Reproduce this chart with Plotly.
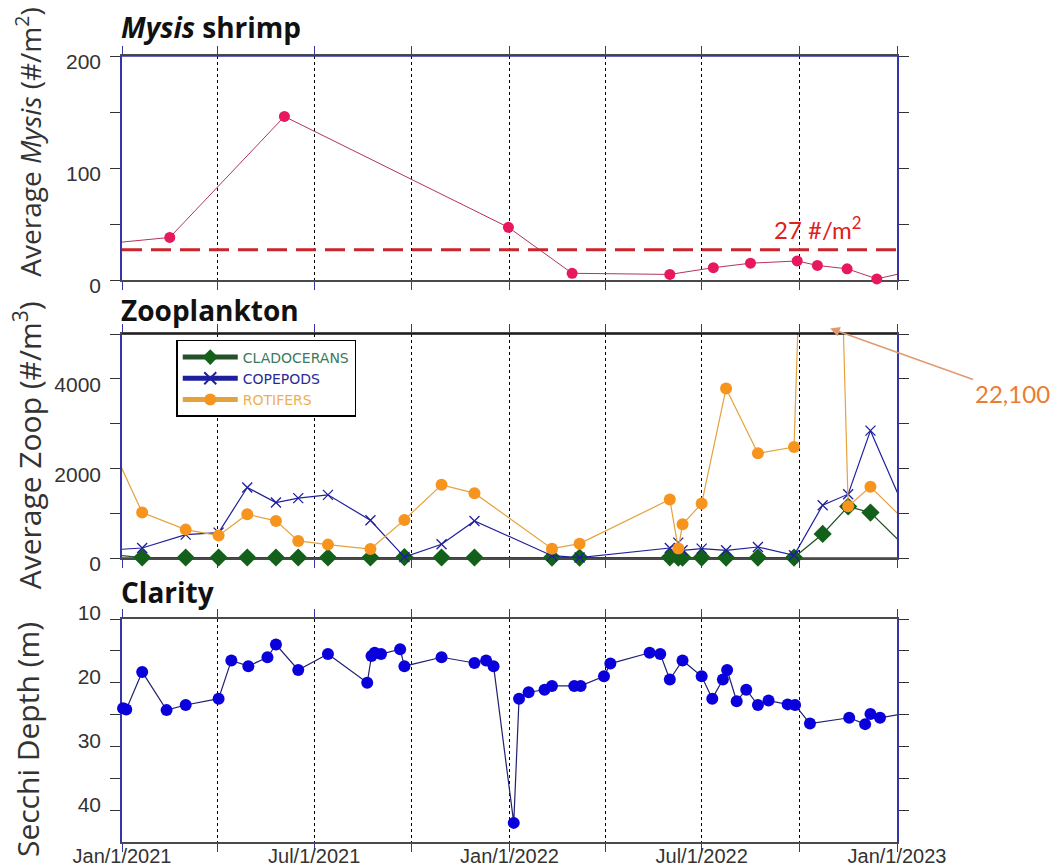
import pandas as pd
import plotly.graph_objects as go

# ---------------- data ----------------
mysis_dates = ["2020-11-20", "2021-02-15", "2021-06-03", "2021-12-31", "2022-03-01",
               "2022-06-01", "2022-07-12", "2022-08-16", "2022-09-29", "2022-10-18",
               "2022-11-15", "2022-12-13", "2023-01-15"]
mysis_values = [30, 38, 146, 47, 6, 5, 11, 15, 17, 13, 10, 1, 8]
mysis_target = 27

zoop_dates = ["2020-12-28", "2021-01-20", "2021-03-02", "2021-04-02", "2021-04-29",
              "2021-05-26", "2021-06-16", "2021-07-14", "2021-08-23", "2021-09-24",
              "2021-10-29", "2021-11-29", "2022-02-10", "2022-03-08", "2022-06-01",
              "2022-06-09", "2022-06-13", "2022-07-01", "2022-07-24", "2022-08-23",
              "2022-09-26", "2022-10-23", "2022-11-16", "2022-12-07", "2023-01-10"]
cladocerans = [60, 12, 12, 12, 12, 12, 12, 12, 12, 20, 12, 12, 10, 10, 15,
               10, 10, 10, 10, 10, 10, 537, 1150, 1015, 224]
copepods = [190, 224, 522, 567, 1575, 1239, 1336, 1410, 843, 20, 306, 828, 52, 10, 223,
            344, 172, 210, 172, 246, 60, 1179, 1425, 2843, 990]
rotifers = [2200, 1015, 634, 500, 978, 828, 381, 299, 201, 851, 1634, 1448, 209, 321, 1306,
            210, 752, 1216, 3784, 2336, 2478, 22100, 1157, 1590, 800]
rotifer_peak_label = "22,100"

secchi_dates = ["2021-01-02", "2021-01-05", "2021-01-20", "2021-02-12", "2021-03-02",
                "2021-04-02", "2021-04-14", "2021-04-30", "2021-05-18", "2021-05-26",
                "2021-06-16", "2021-07-14", "2021-08-20", "2021-08-24", "2021-08-27",
                "2021-09-02", "2021-09-20", "2021-09-24", "2021-10-29", "2021-11-29",
                "2021-12-10", "2021-12-17", "2022-01-05", "2022-01-10", "2022-01-19",
                "2022-02-03", "2022-02-10", "2022-03-03", "2022-03-09", "2022-03-31",
                "2022-04-06", "2022-05-13", "2022-05-23", "2022-06-01", "2022-06-13",
                "2022-07-01", "2022-07-11", "2022-07-21", "2022-07-25", "2022-08-03",
                "2022-08-12", "2022-08-23", "2022-09-02", "2022-09-20", "2022-09-27",
                "2022-10-11", "2022-11-17", "2022-12-02", "2022-12-07", "2022-12-16",
                "2023-01-10"]
secchi_depth = [24.0, 24.2, 18.3, 24.3, 23.5, 22.5, 16.5, 17.4, 16.0, 14.0,
                18.0, 15.5, 20.0, 15.8, 15.3, 15.5, 14.75, 17.4, 16.0, 16.9,
                16.5, 17.4, 42.0, 22.5, 21.5, 21.1, 20.5, 20.5, 20.5, 19.0,
                17.0, 15.3, 15.5, 19.5, 16.5, 19.0, 22.5, 19.5, 18.0, 22.9,
                21.1, 23.5, 22.8, 23.4, 23.5, 26.4, 25.5, 26.5, 24.9, 25.5,
                24.8]

x_range = ["2021-01-01", "2023-01-01"]
quarter_ticks = ["2021-01-01", "2021-04-01", "2021-07-01", "2021-10-01", "2022-01-01",
                 "2022-04-01", "2022-07-01", "2022-10-01", "2023-01-01"]
quarter_labels = ["Jan/1/2021", " ", "Jul/1/2021", " ", "Jan/1/2022", " ", "Jul/1/2022", " ",
                  "Jan/1/2023"]

mysis_yrange = [0, 200]
zoop_yrange = [0, 5000]
secchi_yrange = [45, 10]


def marker_sizes(dates, values, yr, size):
    """Hide markers that fall outside the visible axis ranges."""
    d = pd.to_datetime(pd.Series(dates))
    lo, hi = pd.Timestamp(x_range[0]), pd.Timestamp(x_range[1])
    ylo, yhi = min(yr), max(yr)
    out = []
    for di, v in zip(d, values):
        out.append(size if (lo <= di <= hi and ylo <= v <= yhi) else 0)
    return out


fig = go.Figure()

# ---- Mysis ----
fig.add_trace(go.Scatter(
    x=mysis_dates, y=mysis_values, mode="lines+markers", xaxis="x", yaxis="y",
    line=dict(color="#b0345c", width=1),
    marker=dict(color="#e8185c", opacity=1, line=dict(width=0),
                size=marker_sizes(mysis_dates, mysis_values, mysis_yrange, 11)),
    cliponaxis=False, showlegend=False))

# ---- Zooplankton ----
fig.add_trace(go.Scatter(
    x=zoop_dates, y=cladocerans, mode="lines+markers", xaxis="x2", yaxis="y2",
    name="<span style='color:#3b7a5c'>CLADOCERANS</span>",
    line=dict(color="#24502a", width=1.2),
    marker=dict(symbol="diamond", color="#13601a", opacity=1, line=dict(width=0),
                size=marker_sizes(zoop_dates, cladocerans, zoop_yrange, 14)),
    cliponaxis=False))
fig.add_trace(go.Scatter(
    x=zoop_dates, y=copepods, mode="lines+markers", xaxis="x2", yaxis="y2",
    name="<span style='color:#2a2a96'>COPEPODS</span>",
    line=dict(color="#1f1f9e", width=1.2),
    marker=dict(symbol="x-thin", color="#1f1f9e", opacity=1,
                line=dict(color="#1f1f9e", width=1.3),
                size=marker_sizes(zoop_dates, copepods, zoop_yrange, 10)),
    cliponaxis=False))
fig.add_trace(go.Scatter(
    x=zoop_dates, y=rotifers, mode="lines+markers", xaxis="x2", yaxis="y2",
    name="<span style='color:#f0b050'>ROTIFERS</span>",
    line=dict(color="#e4a23c", width=1.2),
    marker=dict(color="#f7941d", opacity=1, line=dict(width=0),
                size=marker_sizes(zoop_dates, rotifers, zoop_yrange, 12)),
    cliponaxis=False))

# ---- Secchi ----
fig.add_trace(go.Scatter(
    x=secchi_dates, y=secchi_depth, mode="lines+markers", xaxis="x3", yaxis="y3",
    line=dict(color="#20206e", width=1.2),
    marker=dict(color="#0a00dc", opacity=1, line=dict(width=0),
                size=marker_sizes(secchi_dates, secchi_depth, secchi_yrange, 12)),
    cliponaxis=False, showlegend=False))

# ---- axes ----
tick_font = dict(family="Liberation Sans, Arial", size=21, color="#333333")
common_x = dict(type="date", range=x_range, tickvals=quarter_ticks, ticktext=quarter_labels,
                showgrid=True, gridcolor="black", griddash="dot", gridwidth=1,
                showline=True, linecolor="#4a4a4a", linewidth=1.5, mirror="ticks",
                ticks="outside", ticklen=8, tickwidth=1.3, tickcolor="#3535aa",
                zeroline=False, layer="below traces", tickfont=tick_font, automargin=False)
common_y = dict(showgrid=False, zeroline=False, showline=True, linecolor="#3535aa",
                linewidth=1.5, mirror="ticks", ticks="outside", ticklen=10, tickwidth=1.3,
                tickcolor="#333333", tickfont=tick_font, layer="below traces",
                automargin=False, ticklabelstandoff=5)

dom_top = [0.715, 1.0]
dom_mid = [0.3613, 0.6463]
dom_bot = [0.0, 0.2837]

fig.update_layout(
    xaxis=dict(common_x, anchor="y", showticklabels=False),
    xaxis2=dict(common_x, anchor="y2", showticklabels=False, matches="x"),
    xaxis3=dict(common_x, anchor="y3", showticklabels=True, matches="x",
                ticklabelstandoff=-13,
                tickfont=dict(family="Liberation Sans, Arial", size=20, color="#333333")),
    yaxis=dict(common_y, domain=dom_top, anchor="x", range=mysis_yrange, ticklabelshift=6,
               tickvals=[0, 50, 100, 150, 200], ticktext=["0", " ", "100", " ", "200"]),
    yaxis2=dict(common_y, domain=dom_mid, anchor="x2", range=zoop_yrange, ticklabelshift=6,
                tickvals=[0, 1000, 2000, 3000, 4000, 5000],
                ticktext=["0", " ", "2000", " ", "4000", " "]),
    yaxis3=dict(common_y, domain=dom_bot, anchor="x3", range=secchi_yrange, ticklabelshift=6,
                tickvals=[10, 15, 20, 25, 30, 35, 40],
                ticktext=["10", " ", "20", " ", "30", " ", "40"]),
)

# edge colour accents (top edge of Mysis panel, bottom edge of Zoop panel are blue)
fig.add_shape(type="line", xref="x domain", yref="y domain", x0=0, x1=1, y0=1, y1=1,
              line=dict(color="#3535aa", width=1.5))
fig.add_shape(type="line", xref="x2 domain", yref="y2 domain", x0=0, x1=1, y0=0, y1=0,
              line=dict(color="#3535aa", width=1.5), layer="below")
fig.add_shape(type="line", xref="x2 domain", yref="y2 domain", x0=0, x1=1, y0=1, y1=1,
              line=dict(color="#111111", width=1.5))

# Mysis target line
fig.add_shape(type="line", xref="x domain", yref="y", x0=0, x1=1,
              y0=mysis_target, y1=mysis_target,
              line=dict(color="#c9252c", width=3, dash="20px,9px"))

ann = []
title_font = dict(family="Open Sans", size=28, color="#111111")
ann.append(dict(text="<b><i>Mysis</i> shrimp</b>", xref="paper", yref="paper", x=-0.004, y=1.037,
                xanchor="left", yanchor="middle", showarrow=False, font=title_font))
ann.append(dict(text="<b>Zooplankton</b>", xref="paper", yref="paper", x=-0.004, y=0.677,
                xanchor="left", yanchor="middle", showarrow=False, font=title_font))
ann.append(dict(text="<b>Clarity</b>", xref="paper", yref="paper", x=-0.004, y=0.318,
                xanchor="left", yanchor="middle", showarrow=False, font=title_font))

ann.append(dict(text="Average <i>Mysis</i> (#/m<sup>2</sup>)", xref="paper", yref="paper",
                x=-0.121, y=0.89, textangle=-90, xanchor="center", yanchor="middle",
                showarrow=False, font=dict(family="Open Sans", size=28, color="#333333")))
ann.append(dict(text="Average Zoop (#/m<sup>3</sup>)", xref="paper", yref="paper",
                x=-0.121, y=0.505, textangle=-90, xanchor="center", yanchor="middle",
                showarrow=False, font=dict(family="Open Sans", size=30, color="#333333")))
ann.append(dict(text="Secchi Depth (m)", xref="paper", yref="paper",
                x=-0.121, y=0.13, textangle=-90, xanchor="center", yanchor="middle",
                showarrow=False, font=dict(family="Open Sans", size=30, color="#333333")))

ann.append(dict(text=f"{mysis_target} #/m<sup>2</sup>", xref="x", yref="y", x="2022-10-19",
                y=46, xanchor="center", yanchor="middle", showarrow=False,
                font=dict(family="Lato", size=24, color="#e0201c")))

ann.append(dict(text=rotifer_peak_label, xref="x2", yref="y2 domain", x="2022-10-30", y=1.025,
                ax=182, ay=65, showarrow=True, arrowhead=2, arrowsize=1.2, arrowwidth=1.6,
                arrowcolor="#e09a70", font=dict(family="Lato", size=24, color="#ec7c30")))

# page body adds an 8px offset, so the figure is drawn 8px smaller
fig.update_layout(
    annotations=ann,
    width=1055, height=858,
    margin=dict(l=114, r=166, t=48, b=24, autoexpand=False),
    plot_bgcolor="white", paper_bgcolor="white",
    font=dict(family="Liberation Sans, Arial", color="#333333"),
    legend=dict(x=0.07, y=0.6387, xanchor="left", yanchor="top",
                bordercolor="black", borderwidth=1.5, bgcolor="white",
                font=dict(family="DejaVu Sans", size=14), itemwidth=55,
                itemsizing="constant", tracegroupgap=0),
    showlegend=True,
)

fig.write_html("out.html")
